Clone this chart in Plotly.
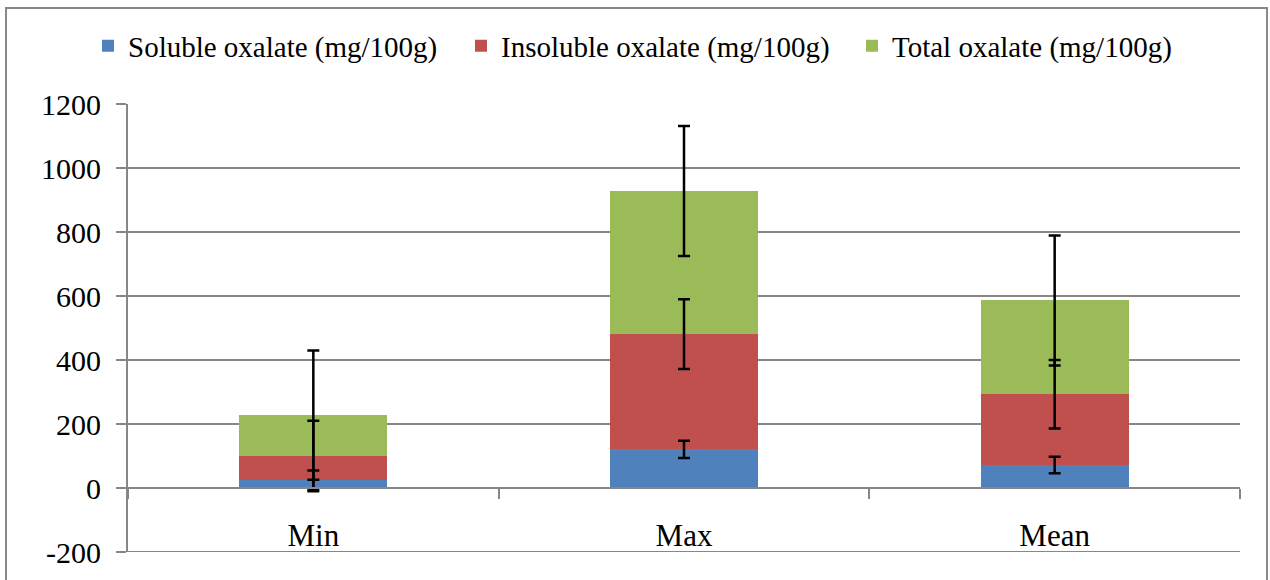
import plotly.graph_objects as go

categories = ["Min", "Max", "Mean"]
soluble = [25, 121, 72]
insoluble = [75, 360, 221]
total = [128, 447, 293]
soluble_err = [30, 27, 26]
insoluble_err = [110, 109, 107]
total_err = [202, 203, 203]

series_names = ["Soluble oxalate (mg/100g)", "Insoluble oxalate (mg/100g)", "Total oxalate (mg/100g)"]
colors = ["#4F81BD", "#C0504D", "#9BBB59"]
y_ticks = [-200, 0, 200, 400, 600, 800, 1000, 1200]

FONT = "Liberation Serif, Times New Roman, serif"
GRID = "#878787"

W, H = 1270, 580
L, R, T, B = 128, 30, 104, 28
pw = W - L - R
ph = H - T - B

def px(x):
    return (x - L) / pw

def py(y):
    return (H - B - y) / ph

legend_ids = ["legend", "legend2", "legend3"]
legend_text_x = [128, 501, 892]

fig = go.Figure()
series = [soluble, insoluble, total]
errors = [soluble_err, insoluble_err, total_err]
for name, vals, col, lg in zip(series_names, series, colors, legend_ids):
    fig.add_trace(go.Bar(
        x=categories, y=vals, name=name, legend=lg,
        marker=dict(color=col, line=dict(width=0)),
    ))

# error bars drawn on top of all bars, at the top of each stacked segment
cum = [0] * len(categories)
for name, vals, errs in zip(series_names, series, errors):
    cum = [c + v for c, v in zip(cum, vals)]
    fig.add_trace(go.Scatter(
        x=categories, y=cum, mode="markers", showlegend=False, hoverinfo="skip",
        marker=dict(size=1, opacity=0),
        error_y=dict(type="data", array=errs, visible=True, color="black",
                     thickness=2.5, width=6),
    ))

legend_common = dict(orientation="h", xanchor="left", yanchor="middle",
                     font=dict(size=29, family=FONT), bgcolor="rgba(0,0,0,0)",
                     itemsizing="constant")
layout_legends = {}
for lg, tx in zip(legend_ids, legend_text_x):
    layout_legends[lg] = dict(x=px(tx - 40), y=py(46), **legend_common)

fig.update_layout(
    width=W, height=H,
    margin=dict(l=L, r=R, t=T, b=B),
    barmode="stack",
    bargap=0.6,
    plot_bgcolor="white",
    paper_bgcolor="white",
    font=dict(family=FONT, color="black"),
    showlegend=True,
    xaxis=dict(
        anchor="free", position=200 / 1400,
        showline=True, linecolor=GRID, linewidth=2,
        ticks="outside", tickson="boundaries", ticklen=10, tickcolor=GRID, tickwidth=2,
        tickfont=dict(size=31, family=FONT),
        ticklabelstandoff=20,
        showgrid=False,
    ),
    yaxis=dict(
        range=[-200, 1200], tickvals=y_ticks, ticktext=[str(v) for v in y_ticks],
        showline=True, linecolor=GRID, linewidth=2,
        ticks="outside", ticklen=10, tickcolor=GRID, tickwidth=2,
        showgrid=True, gridcolor=GRID, gridwidth=2,
        zeroline=False,
        tickfont=dict(size=30, family=FONT),
        ticklabelstandoff=9,
    ),
    shapes=[
        dict(type="rect", xref="paper", yref="paper",
             x0=px(6), x1=px(1267), y0=py(590), y1=py(8),
             line=dict(color="#888888", width=2), layer="below"),
        # bottom gridline at the lowest tick (plotly omits the edge gridline)
        dict(type="line", xref="paper", yref="y", x0=0, x1=1,
             y0=y_ticks[0], y1=y_ticks[0],
             line=dict(color=GRID, width=2), layer="below"),
    ],
    **layout_legends,
)

fig.write_html("out.html", config={"displayModeBar": False},
               post_script="document.body.style.margin='0';document.body.style.overflow='hidden';")
